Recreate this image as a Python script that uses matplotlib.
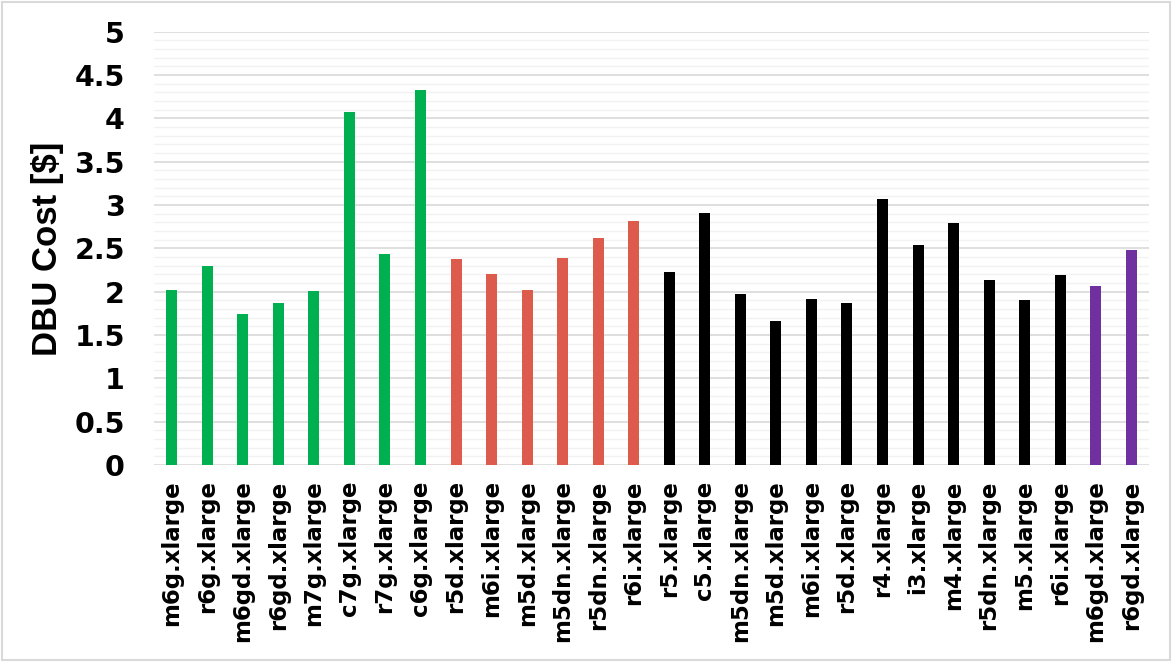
import matplotlib
matplotlib.use("Agg")
import matplotlib.pyplot as plt
from matplotlib.patches import Rectangle
from matplotlib.ticker import MultipleLocator

instances = [
    "m6g.xlarge", "r6g.xlarge", "m6gd.xlarge", "r6gd.xlarge", "m7g.xlarge",
    "c7g.xlarge", "r7g.xlarge", "c6g.xlarge",
    "r5d.xlarge", "m6i.xlarge", "m5d.xlarge", "m5dn.xlarge", "r5dn.xlarge",
    "r6i.xlarge",
    "r5.xlarge", "c5.xlarge", "m5dn.xlarge", "m5d.xlarge", "m6i.xlarge",
    "r5d.xlarge", "r4.xlarge", "i3.xlarge", "m4.xlarge", "r5dn.xlarge",
    "m5.xlarge", "r6i.xlarge",
    "m6gd.xlarge", "r6gd.xlarge",
]
dbu_cost = [
    2.02, 2.30, 1.74, 1.87, 2.01, 4.07, 2.44, 4.33,
    2.38, 2.20, 2.02, 2.39, 2.62, 2.81,
    2.23, 2.91, 1.97, 1.66, 1.91, 1.87, 3.07, 2.54, 2.79, 2.13, 1.90, 2.19,
    2.06, 2.48,
]
group = ["green"] * 8 + ["red"] * 6 + ["black"] * 12 + ["purple"] * 2
y_ticks = [0, 0.5, 1, 1.5, 2, 2.5, 3, 3.5, 4, 4.5, 5]
y_tick_labels = ["0", "0.5", "1", "1.5", "2", "2.5", "3", "3.5", "4", "4.5", "5"]

palette = {"green": "#00B050", "red": "#DC5B4D", "black": "#000000", "purple": "#7030A0"}

fig = plt.figure(figsize=(11.72, 6.62), dpi=100)
ax = fig.add_axes([0.1314, 0.2976, 0.849, 0.6546])

x = range(len(instances))
ax.bar(x, dbu_cost, width=0.31, color=[palette[g] for g in group], zorder=3)

ax.set_xlim(-0.5, len(instances) - 0.5)
ax.set_ylim(0, 5)
ax.yaxis.set_minor_locator(MultipleLocator(0.1))
ax.grid(axis="y", which="minor", color="#F2F2F2", linewidth=1.0, zorder=0)
ax.grid(axis="y", which="major", color="#D9D9D9", linewidth=1.2, zorder=1)
for s in ax.spines.values():
    s.set_visible(False)

ax.set_yticks(y_ticks)
ax.set_yticklabels(y_tick_labels, fontfamily="DejaVu Sans", fontweight="bold", fontsize=20.5)
ax.set_xticks(list(x))
ax.set_xticklabels(instances, rotation=90, fontfamily="DejaVu Sans",
                   fontweight="bold", fontsize=16.5)
ax.tick_params(axis="y", which="both", length=0, pad=21)
ax.tick_params(axis="x", which="both", length=0, pad=11)

ax.set_ylabel("DBU Cost [$]", fontfamily="Liberation Sans", fontweight="bold", fontsize=25)
ax.yaxis.set_label_coords(-0.09, 0.5)

fig.patches.append(Rectangle((0.002, 0.003), 0.996, 0.994, transform=fig.transFigure,
                             fill=False, edgecolor="#D9D9D9", linewidth=1.5))

fig.savefig("out.png", dpi=100)
